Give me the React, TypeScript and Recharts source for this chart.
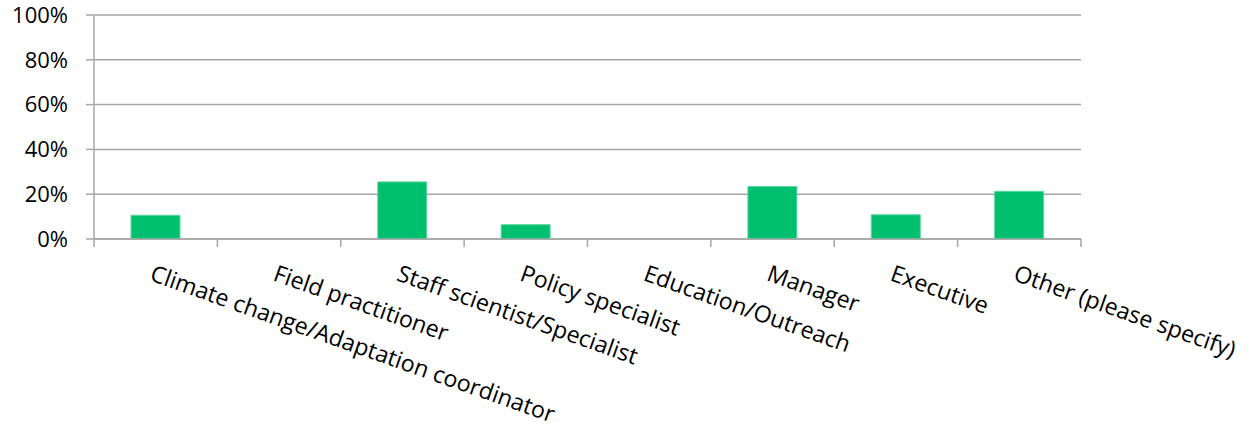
import React from "react";
import { BarChart, Bar, XAxis, YAxis, CartesianGrid } from "recharts";

const ROLES = [
  "Climate change/Adaptation coordinator",
  "Field practitioner",
  "Staff scientist/Specialist",
  "Policy specialist",
  "Education/Outreach",
  "Manager",
  "Executive",
  "Other (please specify)",
];

const SHARES = [0.106, 0, 0.255, 0.064, 0, 0.234, 0.108, 0.213];

const Y_TICKS = [0, 0.2, 0.4, 0.6, 0.8, 1];

const data = ROLES.map((role, i) => ({ role, share: SHARES[i] }));

// chart chrome, Excel-ish
const GRID = "#a6a6a6";
const BAR = "#00bf6f";
const FONT = "'Open Sans', sans-serif";

function RoleTick(props: any) {
  const { x, y, payload, index } = props;
  const half = payload.offset ?? 0;
  const last = index === ROLES.length - 1;
  return (
    <g>
      <line x1={x - half} y1={y} x2={x - half} y2={y + 8} stroke={GRID} strokeWidth={1.5} />
      {last && (
        <line x1={x + half} y1={y} x2={x + half} y2={y + 8} stroke={GRID} strokeWidth={1.5} />
      )}
      <g transform={`translate(${x - 1},${y + 24}) rotate(19.5)`}>
        <text x={0} y={0} dy="0.78em" textAnchor="start" fill="#000" fontSize={23.2} fontFamily={FONT}>
          {payload.value}
        </text>
      </g>
    </g>
  );
}

export default function App() {
  return (
    <div style={{ width: 1255, height: 431, background: "#fff" }}>
      <style>{`body{margin:0}`}</style>
      <BarChart
        width={1255}
        height={431}
        data={data}
        margin={{ top: 15, right: 174, left: 0, bottom: 0 }}
        barCategoryGap="30%"
      >
        <CartesianGrid vertical={false} stroke={GRID} strokeWidth={1.5} />
        <XAxis
          dataKey="role"
          height={192}
          interval={0}
          axisLine={{ stroke: GRID, strokeWidth: 1.5 }}
          tickLine={false}
          tickSize={0}
          tickMargin={0}
          tick={<RoleTick />}
        />
        <YAxis
          width={94}
          domain={[0, 1]}
          ticks={Y_TICKS}
          interval={0}
          tickSize={8}
          tickMargin={18}
          axisLine={{ stroke: GRID, strokeWidth: 1.5 }}
          tickLine={{ stroke: GRID, strokeWidth: 1.5 }}
          tick={{ fill: "#000", fontSize: 22, fontFamily: FONT }}
          tickFormatter={(v: number) => `${Math.round(v * 100)}%`}
        />
        <Bar dataKey="share" fill={BAR} stroke="#5fd6a3" strokeWidth={1} isAnimationActive={false} />
      </BarChart>
    </div>
  );
}
